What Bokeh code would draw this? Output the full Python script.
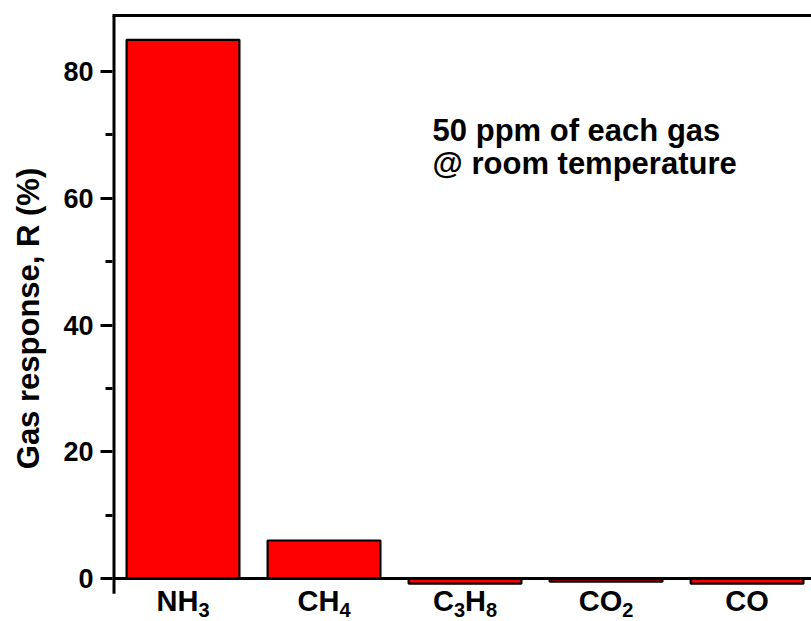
from bokeh.plotting import figure
from bokeh.models import Range1d, LinearAxis, FixedTicker, Span, ColumnDataSource
from bokeh.embed import file_html
from bokeh.resources import INLINE
from bokeh.core.properties import value

# ---- data ----
gases = ["NH3", "CH4", "C3H8", "CO2", "CO"]
response = [85.0, 6.0, -0.8, -0.5, -0.8]
y_ticks = [0, 20, 40, 60, 80]
y_minor = [10, 30, 50, 70]
note_lines = ["50 ppm of each gas", "@ room temperature"]
note_y = [70.7, 65.5]

FONT = "Liberation Sans"
MAIN_PX = 29
SUB_PX = 20
# Liberation Sans Bold advance widths (em), metric-compatible with Arial Bold
ADV = {"N": 0.722, "H": 0.722, "C": 0.722, "O": 0.778}
DIGIT_ADV = 0.556

Y0, Y1 = -6.78, 88.84
AXIS_BOTTOM = -2.4
X0, X1 = 0.5, 5.457

xs = list(range(1, len(gases) + 1))
src = ColumnDataSource(dict(x=xs, top=response))

p = figure(width=811, height=621, output_backend="svg", toolbar_location=None,
           x_range=Range1d(X0, X1), y_range=Range1d(Y0, Y1),
           min_border_left=112, min_border_top=15, min_border_right=0,
           min_border_bottom=0)
p.outline_line_color = None
p.grid.visible = False
p.background_fill_color = "white"

p.vbar(x="x", top="top", bottom=0, width=0.8, source=src,
       fill_color="#ff0000", line_color="black", line_width=2.2)

# zero line (x axis drawn at y = 0)
p.add_layout(Span(location=0, dimension="width", line_color="black", line_width=3))

# left axis line, ending a little below zero
p.segment(x0=[X0], y0=[AXIS_BOTTOM], x1=[X0], y1=[Y1], line_color="black", line_width=6)

# y axis (ticks and labels)
ya = p.yaxis[0]
ya.ticker = FixedTicker(ticks=y_ticks, minor_ticks=y_minor)
ya.axis_line_color = None
ya.major_tick_line_width = 3
ya.minor_tick_line_width = 3
ya.major_tick_out = 12
ya.major_tick_in = 0
ya.minor_tick_out = 7
ya.minor_tick_in = 0
ya.major_label_text_font = FONT
ya.major_label_text_font_style = "bold"
ya.major_label_text_font_size = "27px"
ya.major_label_text_color = "black"
ya.major_label_standoff = 7
ya.axis_label = "Gas response, R (%)"
ya.axis_label_text_font = FONT
ya.axis_label_text_font_style = "bold"
ya.axis_label_text_font_size = "31px"
ya.axis_label_text_color = "black"
ya.axis_label_standoff = 14

# x axis hidden; category labels drawn with real subscripts below the zero line
p.xaxis.visible = False

def pieces(formula):
    out = []
    for ch in formula:
        sub = ch.isdigit()
        if out and out[-1][1] == sub:
            out[-1][0] += ch
        else:
            out.append([ch, sub])
    return out

def width_px(txt, sub):
    size = SUB_PX if sub else MAIN_PX
    return sum((DIGIT_ADV if c.isdigit() else ADV.get(c, 0.7)) * size for c in txt)

lab = dict(x=[], y=[], text=[], xo=[], yo=[], fs=[])
for xc, g in zip(xs, gases):
    parts = pieces(g)
    total = sum(width_px(t, s) for t, s in parts)
    off = -total / 2.0
    for t, s in parts:
        lab["x"].append(xc)
        lab["y"].append(AXIS_BOTTOM)
        lab["text"].append(t)
        lab["xo"].append(off)
        lab["yo"].append(16 if s else 7)
        lab["fs"].append(f"{SUB_PX if s else MAIN_PX}px")
        off += width_px(t, s)

p.text(x="x", y="y", text="text", x_offset="xo", y_offset="yo", text_font_size="fs",
       source=ColumnDataSource(lab), text_font=value(FONT), text_font_style="bold",
       text_color="black", text_align="left", text_baseline="alphabetic")

# top border line
top_ax = LinearAxis(ticker=FixedTicker(ticks=[]), major_label_text_font_size="0px",
                    axis_line_width=3, major_tick_line_color=None,
                    minor_tick_line_color=None)
p.add_layout(top_ax, "above")

# annotation
p.text(x=[2.77, 2.77], y=note_y, text=note_lines,
       text_font=value(FONT), text_font_style="bold", text_font_size="31px",
       text_color="black", text_baseline="alphabetic", text_align="left")

open("out.html", "w").write(file_html(p, INLINE))
